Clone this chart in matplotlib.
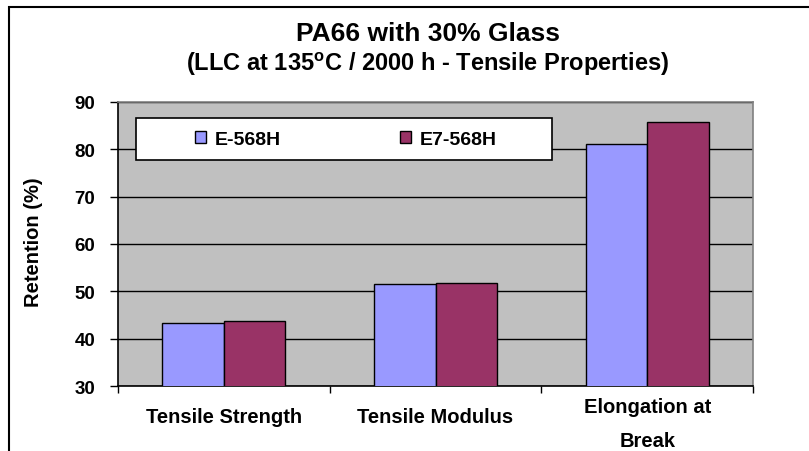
import matplotlib
matplotlib.use("Agg")
import matplotlib.pyplot as plt
import numpy as np
from matplotlib.patches import Rectangle
from matplotlib.transforms import ScaledTranslation

plt.rcParams['font.family'] = ['Liberation Sans', 'DejaVu Sans']
plt.rcParams['mathtext.fontset'] = 'custom'
plt.rcParams['mathtext.bf'] = 'Liberation Sans:bold'
plt.rcParams['mathtext.rm'] = 'Liberation Sans:bold'

categories = ["Tensile Strength", "Tensile Modulus", "Elongation at\nBreak"]
series_names = ["E-568H", "E7-568H"]
e568h = [43.3, 51.6, 81.1]
e7_568h = [43.8, 51.8, 85.8]
colors = ["#9999FF", "#993366"]
yticks = [30, 40, 50, 60, 70, 80, 90]

fig = plt.figure(figsize=(8.09, 4.52), dpi=100)
W, H = 809, 452
ax = fig.add_axes([118 / W, 1 - 387 / H, (753 - 118) / W, (387 - 103) / H])
ax.set_facecolor("#C0C0C0")

x = np.arange(len(categories))
bw = 0.29
ax.bar(x - bw / 2, e568h, bw, color=colors[0], edgecolor="black", linewidth=1, label=series_names[0], zorder=3)
ax.bar(x + bw / 2, e7_568h, bw, color=colors[1], edgecolor="black", linewidth=1, label=series_names[1], zorder=3)

ax.set_ylim(30, 90)
ax.set_xlim(-0.5, len(categories) - 0.5)
ax.set_yticks(yticks)
ax.set_yticklabels([str(t) for t in yticks], fontsize=13.5, fontweight="bold")
ax.yaxis.grid(True, color="black", linewidth=1, zorder=1)
ax.set_axisbelow(True)

ax.set_xticks(x)
ax.set_xticklabels(categories, fontsize=14.5, fontweight="bold", linespacing=1.95, va="center")
ax.set_xticks(np.arange(len(categories) + 1) - 0.5, minor=True)
ax.tick_params(axis="x", which="major", length=0, pad=22)
ax.tick_params(axis="x", which="minor", length=5, width=1, color="black")
ax.tick_params(axis="y", length=6, width=1, pad=10.5)

for lbl in ax.get_xticklabels():
    if "\n" in lbl.get_text():
        lbl.set_transform(lbl.get_transform() + ScaledTranslation(0, -5 / 72, fig.dpi_scale_trans))

for s in ["top", "right"]:
    ax.spines[s].set_color("#808080")
    ax.spines[s].set_linewidth(1.2)
for s in ["left", "bottom"]:
    ax.spines[s].set_color("black")
    ax.spines[s].set_linewidth(1.2)

ax.set_ylabel("Retention (%)", fontsize=14.5, fontweight="bold")
ax.yaxis.set_label_coords((43 - 118) / 635, 0.51)

# legend box
ax.add_patch(Rectangle((0.0283, 0.7958), 0.6552, 0.1479, transform=ax.transAxes,
                       facecolor="white", edgecolor="black", linewidth=1.2, zorder=4))
leg = ax.legend(loc="center", bbox_to_anchor=(0.359, 0.8697), ncol=2, frameon=False,
                prop={"weight": "bold", "size": 14}, handlelength=0.57, handleheight=0.57,
                handletextpad=0.45, columnspacing=6.1)
leg.set_zorder(5)

fig.text(428 / W, 1 - 41 / H, "PA66 with 30% Glass", ha="center", va="baseline", fontsize=19, fontweight="bold")
fig.text(428 / W, 1 - 71 / H, r"(LLC at 135$^{\mathbf{o}}$C / 2000 h - Tensile Properties)", ha="center",
         va="baseline", fontsize=17, fontweight="bold")

# outer border
fig.patches.append(Rectangle((8.5 / W, -0.05), 1.1, 1 - 8 / H + 0.05, transform=fig.transFigure,
                             facecolor="none", edgecolor="black", linewidth=1.5))

fig.savefig("out.png", dpi=100)
